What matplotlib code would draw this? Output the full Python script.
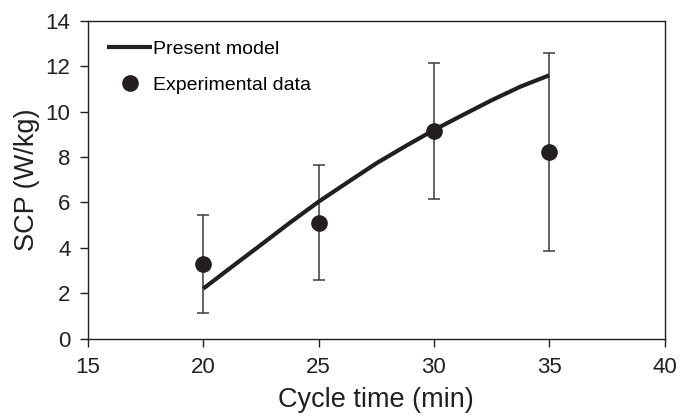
import matplotlib.pyplot as plt

plt.rcParams['font.family'] = ['Liberation Sans', 'DejaVu Sans']

# present model curve
model_x = [20, 21.25, 22.5, 23.75, 25, 26.25, 27.5, 28.75, 30, 31.25, 32.5, 33.75, 35]
model_y = [2.2, 3.17, 4.13, 5.1, 6.03, 6.88, 7.72, 8.47, 9.19, 9.85, 10.5, 11.1, 11.6]

# experimental points with error bars
exp_x = [20, 25, 30, 35]
exp_y = [3.3, 5.1, 9.15, 8.2]
err_lo = [1.15, 2.6, 6.15, 3.85]
err_hi = [5.45, 7.65, 12.15, 12.6]

yerr = [[y - lo for y, lo in zip(exp_y, err_lo)],
        [hi - y for y, hi in zip(exp_y, err_hi)]]

fig = plt.figure(figsize=(6.81, 4.16), dpi=100)
ax = fig.add_axes([0.129, 0.186, 0.847, 0.764])

ax.errorbar(exp_x, exp_y, yerr=yerr, fmt='none', ecolor='#3a3a3a',
            elinewidth=1.1, capsize=4.5, capthick=1.1, zorder=2)
ax.plot(model_x, model_y, color='#231f20', lw=3.0, label='Present model',
        solid_capstyle='butt', zorder=3)
ax.plot(exp_x, exp_y, 'o', color='#231f20', ms=11, label='Experimental data',
        zorder=4)

ax.set_xlim(15, 40)
ax.set_ylim(0, 14)
ax.set_xticks([15, 20, 25, 30, 35, 40])
ax.set_yticks(range(0, 15, 2))
ax.tick_params(direction='out', length=5.5, width=1, labelsize=16, colors='#231f20')
ax.tick_params(axis='x', pad=8)
ax.tick_params(axis='y', pad=7)
for s in ax.spines.values():
    s.set_linewidth(1.0)
    s.set_color('#231f20')

ax.set_xlabel('Cycle time (min)', fontsize=19.5, color='#231f20', labelpad=6)
ax.set_ylabel('SCP (W/kg)', fontsize=19.5, color='#231f20', labelpad=4)

ax.legend(loc='upper left', frameon=False, fontsize=14, handlelength=2.3,
          handletextpad=0.05, labelspacing=0.95, borderaxespad=0.6)

fig.savefig('out.png', dpi=100)
